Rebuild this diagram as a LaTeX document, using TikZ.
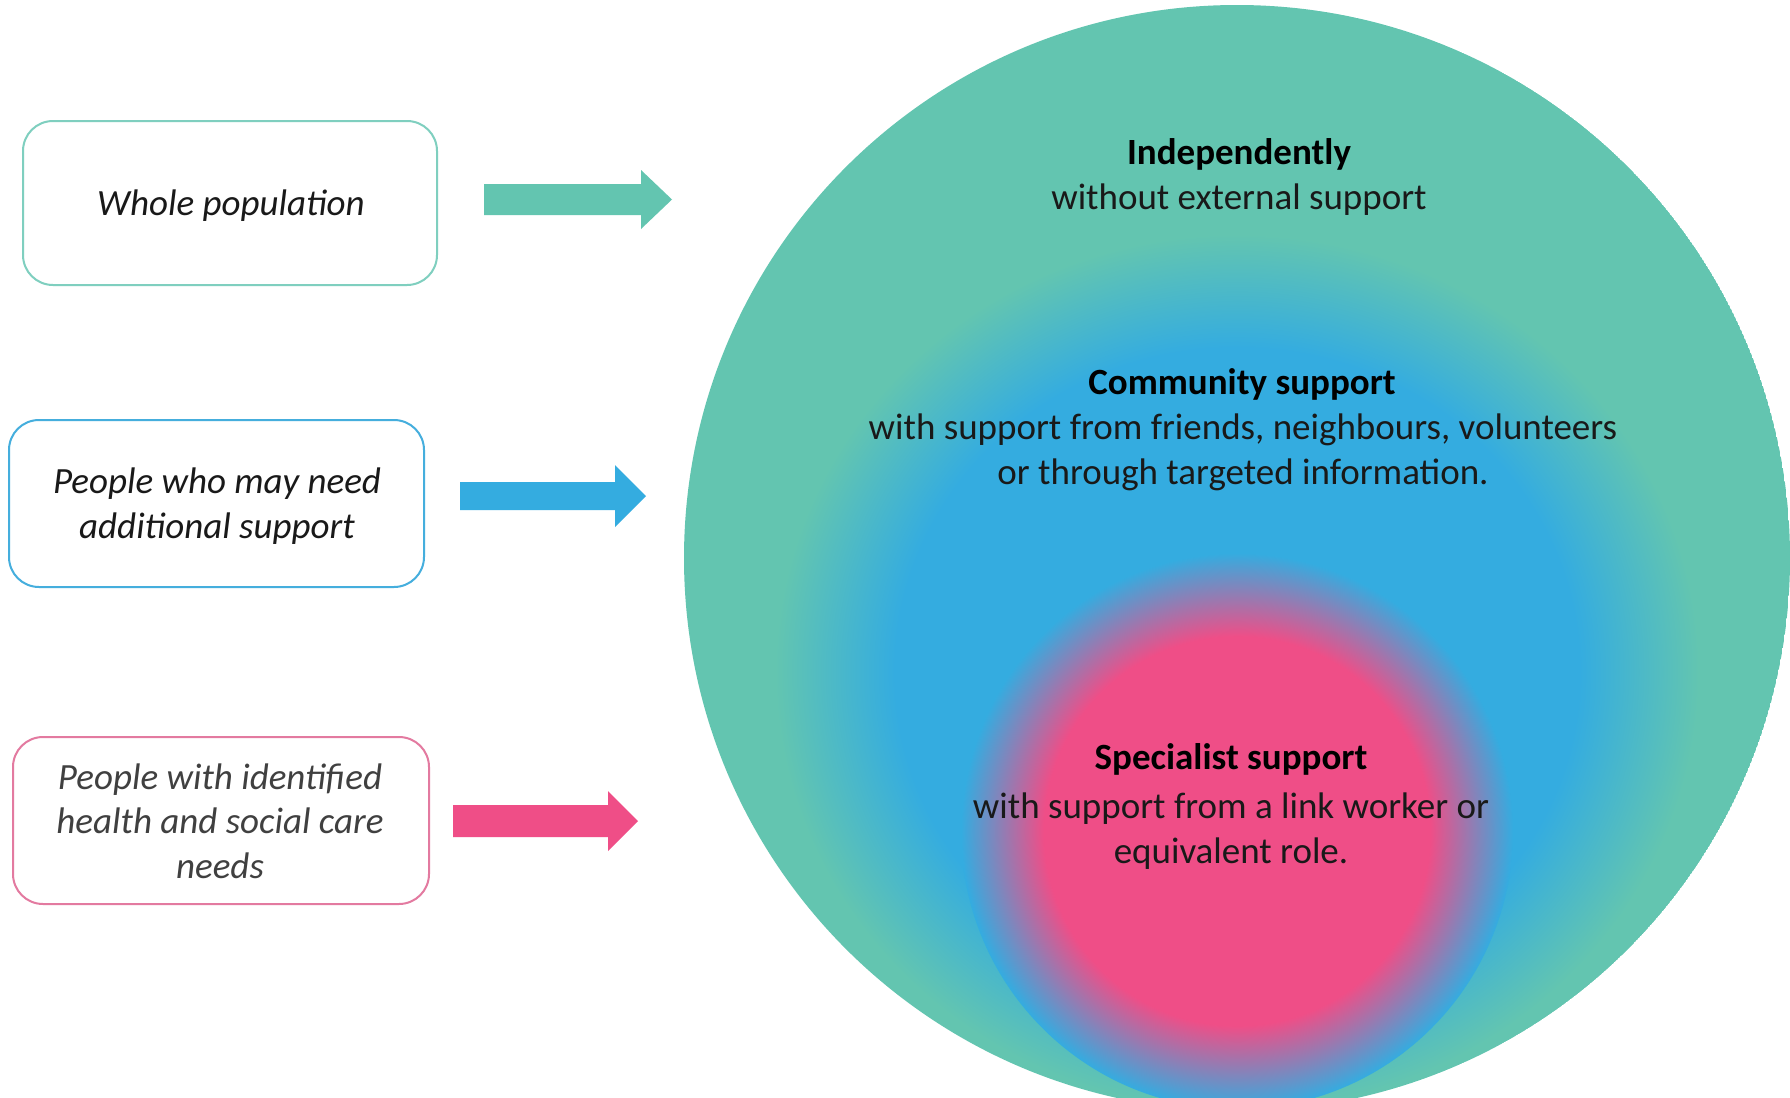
\documentclass[tikz,border=0pt]{standalone}
\usepackage{fontspec}
\setmainfont{Carlito}
\definecolor{cteal}{HTML}{63C5B0}
\definecolor{cblue}{HTML}{34ACE0}
\definecolor{cpink}{HTML}{EF4E87}
\definecolor{bteal}{HTML}{7FCFBF}
\definecolor{bblue}{HTML}{45AEDD}
\definecolor{bpink}{HTML}{E37AA0}
\pgfdeclareradialshading{blueshade}{\pgfpoint{0bp}{0bp}}{color(0bp)=(cblue); color(18.5bp)=(cblue); color(25bp)=(cteal); color(50bp)=(cteal)}
\pgfdeclareradialshading{pinkshade}{\pgfpoint{0bp}{0bp}}{color(0bp)=(cpink); color(17.5bp)=(cpink); color(25bp)=(cblue); color(50bp)=(cblue)}
\tikzset{
  boxnode/.style={draw, line width=1pt, rounded corners=15pt, fill=white, inner sep=0pt, align=center},
  boxtext/.style={font=\fontsize{18.5pt}{22.5pt}\selectfont\itshape, anchor=base, inner sep=0pt},
  titletext/.style={font=\fontsize{18.5pt}{22.5pt}\selectfont\bfseries, anchor=base, inner sep=0pt, text=black},
  bodytext/.style={font=\fontsize{18.5pt}{22.5pt}\selectfont, anchor=base, inner sep=0pt, text=black!90},
}
\begin{document}
\begin{tikzpicture}[x=0.5pt,y=-0.5pt]
\useasboundingbox (0,0) rectangle (1790,1098);
\fill[white] (0,0) rectangle (1790,1098);

% big circle with shadings
\begin{scope}
  \clip (1237,558) circle[radius=553];
  \fill[cteal] (1237,558) circle[radius=553];
  \shade[shading=blueshade] (1237,672) ellipse[x radius=462, y radius=438];
  \shade[shading=pinkshade] (1237,831) ellipse[x radius=276, y radius=278];
\end{scope}

% left boxes
\node[boxnode, draw=bteal, minimum width=207pt, minimum height=82pt] (b1) at (230,203) {};
\node[boxnode, draw=bblue, minimum width=207.5pt, minimum height=83.5pt] (b2) at (216.5,503.5) {};
\node[boxnode, draw=bpink, minimum width=208pt, minimum height=83.5pt] (b3) at (221,820.5) {};

\node[boxtext, text=black!90] (b1t) at (231,215) {Whole population};
\node[boxtext, text=black!90] (b2t1) at (217,493) {People who may need};
\node[boxtext, text=black!90] (b2t2) at (217,538) {additional support};
\node[boxtext, text=black!75] (b3t1) at (220,789) {People with identified};
\node[boxtext, text=black!75] (b3t2) at (220,833) {health and social care};
\node[boxtext, text=black!75] (b3t3) at (220,878) {needs};

% block arrows
\fill[cteal] (484,184) -- (641,184) -- (641,170) -- (672,199.5) -- (641,229) -- (641,215) -- (484,215) -- cycle;
\fill[cblue] (460,482) -- (615,482) -- (615,465) -- (646,496) -- (615,527) -- (615,510) -- (460,510) -- cycle;
\fill[cpink] (453,805) -- (608,805) -- (608,791) -- (638,821) -- (608,851) -- (608,837) -- (453,837) -- cycle;

% circle texts
\node[titletext] (t1) at (1239,164) {Independently};
\node[bodytext] (t1b) at (1239,209) {without external support};
\node[titletext] (t2) at (1242,394) {Community support};
\node[bodytext] (t2b) at (1243,439) {with support from friends, neighbours, volunteers};
\node[bodytext] (t2c) at (1243,484) {or through targeted information.};
\node[titletext] (t3) at (1231,769) {Specialist support};
\node[bodytext] (t3b) at (1231,818) {with support from a link worker or};
\node[bodytext] (t3c) at (1231,863) {equivalent role.};
\end{tikzpicture}
\end{document}
